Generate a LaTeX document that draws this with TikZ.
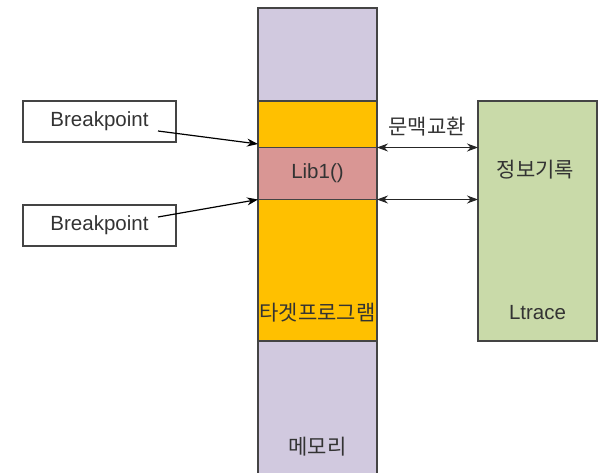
\documentclass[tikz,border=0pt]{standalone}
\usepackage{fontspec}
\setmainfont{Liberation Sans}
\newfontfamily\kr{Noto Sans CJK KR}
\usetikzlibrary{arrows.meta}
\definecolor{memc}{HTML}{D1C9DF}
\definecolor{progc}{HTML}{FFC000}
\definecolor{libc}{HTML}{D99694}
\definecolor{ltc}{HTML}{C9DAA9}
\definecolor{edgec}{HTML}{444444}
\definecolor{txtc}{HTML}{333333}
\begin{document}
\begin{tikzpicture}[x=1pt,y=-1pt,
  blk/.style={draw=edgec,line width=1.4pt,inner sep=0pt,outer sep=0pt,font=\fontsize{20.5}{24}\selectfont,text=txtc},
  lbl/.style={font=\fontsize{21}{24}\selectfont,text=txtc,inner sep=0pt},
  conn/.style={draw=black,line width=1.2pt,-{Stealth[length=11pt,width=8pt]}},
  dconn/.style={draw=black!85,line width=1.2pt,{Stealth[length=11pt,width=8pt]}-{Stealth[length=11pt,width=8pt]}}]
\useasboundingbox (0,0) rectangle (602,473);
\clip (0,0) rectangle (602,473);
\node[blk,fill=memc,minimum width=119pt,minimum height=476pt] (mem) at (317.5,246) {};
\node[blk,fill=progc,minimum width=119pt,minimum height=240pt] (prog) at (317.5,221) {};
\node[blk,fill=libc,minimum width=119pt,minimum height=52pt] (lib) at (317.5,173.5) {Lib1()};
\node[blk,fill=white,minimum width=153pt,minimum height=41pt] (bp1) at (99.5,121.5) {Breakpoint};
\node[blk,fill=white,minimum width=153pt,minimum height=41pt] (bp2) at (99.5,225.5) {Breakpoint};
\node[blk,fill=ltc,minimum width=119pt,minimum height=240pt] (lt) at (537.5,221) {};
\node[lbl] (prl) at (317.5,313) {\kr 타겟프로그램};
\node[lbl] (mml) at (317.5,447) {\kr 메모리};
\node[lbl,font=\fontsize{20.5}{24}\selectfont] (ltl) at (537.5,313) {Ltrace};
\node[lbl] (inf) at (535.5,170) {\kr 정보기록};
\node[lbl] (ctx) at (427,127) {\kr 문맥교환};
\coordinate (s1) at (158,131);
\coordinate (e1) at (258,144);
\coordinate (s2) at (158,217);
\coordinate (e2) at (258,199.5);
\draw[conn] (s1) -- (e1);
\draw[conn] (s2) -- (e2);
\draw[dconn] (lib.north east) -- (lib.north east -| lt.west);
\draw[dconn] (lib.south east) -- (lib.south east -| lt.west);
\end{tikzpicture}
\end{document}
